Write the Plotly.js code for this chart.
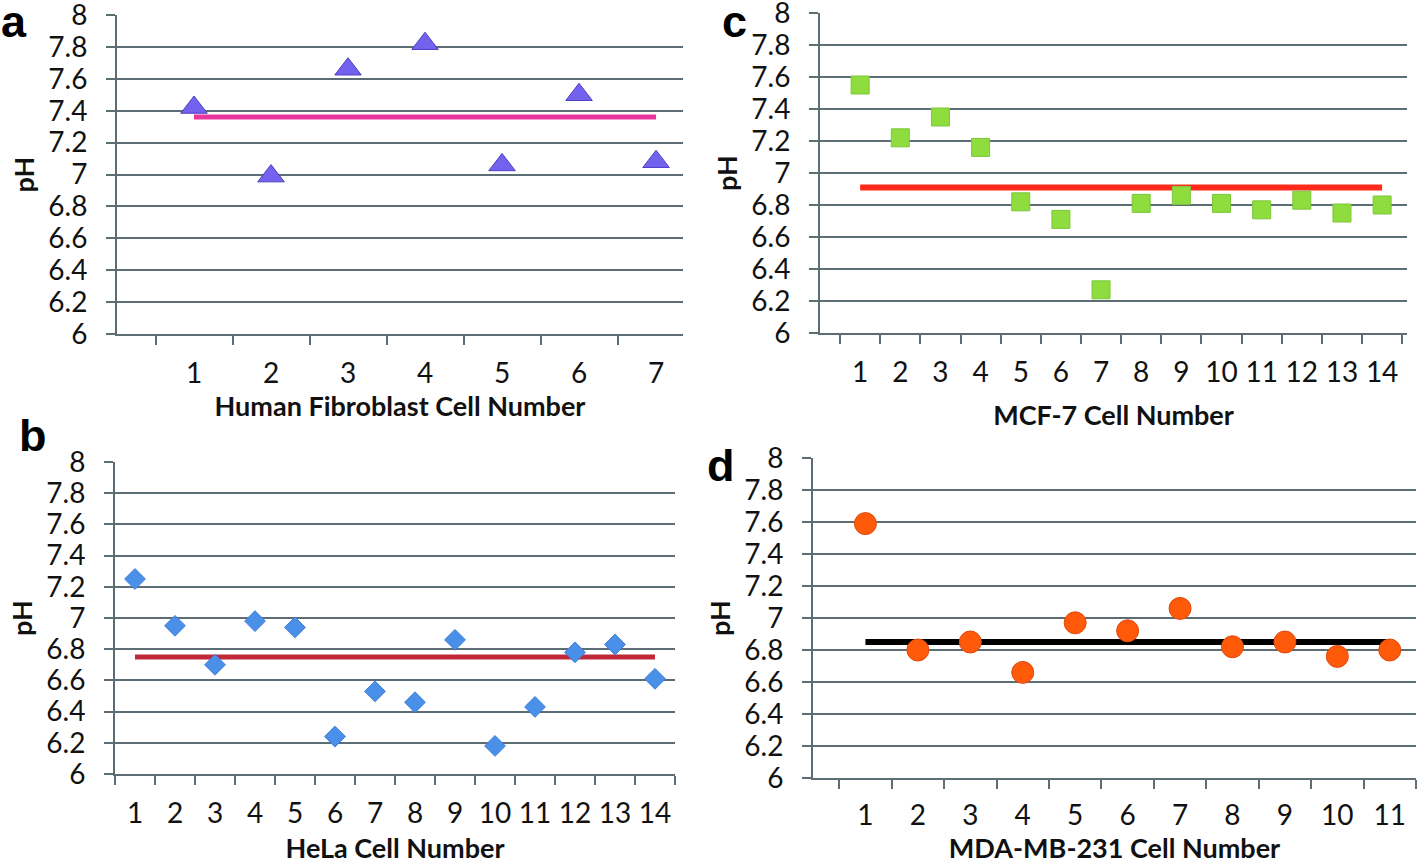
<!DOCTYPE html>
<html>
<head>
<meta charset="utf-8">
<script src="https://cdn.plot.ly/plotly-3.0.1.min.js"></script>
<style>html,body{margin:0;padding:0;background:#fff;}#chart{width:1418px;height:864px;}</style>
</head>
<body>
<div id="chart"></div>
<script>
// ---- data ----
const cellsA = [1, 2, 3, 4, 5, 6, 7];
const phA = [7.42, 6.99, 7.66, 7.82, 7.06, 7.50, 7.08];
const meanA = 7.36;

const cellsB = [1, 2, 3, 4, 5, 6, 7, 8, 9, 10, 11, 12, 13, 14];
const phB = [7.25, 6.95, 6.70, 6.98, 6.94, 6.24, 6.53, 6.46, 6.86, 6.18, 6.43, 6.78, 6.83, 6.61];
const meanB = 6.75;

const cellsC = [1, 2, 3, 4, 5, 6, 7, 8, 9, 10, 11, 12, 13, 14];
const phC = [7.55, 7.22, 7.35, 7.16, 6.82, 6.71, 6.27, 6.81, 6.86, 6.81, 6.77, 6.83, 6.75, 6.80];
const meanC = 6.91;

const cellsD = [1, 2, 3, 4, 5, 6, 7, 8, 9, 10, 11];
const phD = [7.59, 6.80, 6.85, 6.66, 6.97, 6.92, 7.06, 6.82, 6.85, 6.76, 6.80];
const meanD = 6.85;

const yTicks = [6, 6.2, 6.4, 6.6, 6.8, 7, 7.2, 7.4, 7.6, 7.8, 8];
const yTickText = ['6', '6.2', '6.4', '6.6', '6.8', '7', '7.2', '7.4', '7.6', '7.8', '8'];

const xTitles = ['Human Fibroblast Cell Number', 'HeLa Cell Number', 'MCF-7 Cell Number', 'MDA-MB-231 Cell Number'];
const panelLetters = ['a', 'b', 'c', 'd'];

// ---- styling ----
const W = 1418, H = 864;
const GRID = '#5d6d75';
const FONT = 'Lato, "Open Sans", sans-serif';

function dom(p0, p1, total, flip) {
  return flip ? [1 - p1 / total, 1 - p0 / total] : [p0 / total, p1 / total];
}

function xAxis(xpx, xrange, cats, anchor, titleText, labelStandoff, titleStandoff) {
  return {
    domain: dom(xpx[0], xpx[1], W, false),
    range: xrange,
    anchor: anchor,
    showgrid: false,
    zeroline: false,
    showline: true,
    linecolor: GRID,
    linewidth: 2,
    ticks: '',
    tickmode: 'array',
    tickvals: cats,
    ticktext: cats.map(String),
    ticklabelstandoff: labelStandoff,
    ticklabeloverflow: 'allow',
    tickfont: {family: FONT, size: 28, color: '#111'},
    minor: {ticks: 'outside', tickmode: 'linear', tick0: 0.5, dtick: 1, ticklen: 9, tickwidth: 2, tickcolor: GRID, showgrid: false},
    title: {text: titleText, standoff: titleStandoff, font: {family: FONT, size: 27, color: '#111', weight: 'bold'}},
    fixedrange: true
  };
}

function yAxis(ypx, anchor) {
  return {
    domain: dom(ypx[0], ypx[1], H, true),
    range: [6, 8],
    anchor: anchor,
    showgrid: true,
    gridcolor: GRID,
    gridwidth: 2,
    zeroline: false,
    showline: true,
    linecolor: GRID,
    linewidth: 2,
    ticks: 'outside',
    ticklen: 9,
    tickwidth: 2,
    tickcolor: GRID,
    tickmode: 'array',
    tickvals: yTicks,
    ticktext: yTickText,
    ticklabelstandoff: 13,
    ticklabeloverflow: 'allow',
    tickfont: {family: FONT, size: 28, color: '#111'},
    title: {text: 'pH', standoff: 6, font: {family: FONT, size: 27, color: '#111', weight: 'bold'}},
    fixedrange: true
  };
}

function meanTrace(cats, mean, color, width, xa, ya) {
  return {
    type: 'scatter', mode: 'lines',
    x: [cats[0], cats[cats.length - 1]], y: [mean, mean],
    xaxis: xa, yaxis: ya,
    line: {color: color, width: width},
    hoverinfo: 'skip', showlegend: false
  };
}

function pointTrace(cats, vals, symbol, size, fill, outline, xa, ya) {
  return {
    type: 'scatter', mode: 'markers',
    x: cats, y: vals, xaxis: xa, yaxis: ya,
    marker: {symbol: symbol, size: size, color: fill, line: {color: outline, width: 1}},
    showlegend: false
  };
}

const data = [
  meanTrace(cellsA, meanA, '#e8369f', 5, 'x', 'y'),
  pointTrace(cellsA, phA, 'triangle-up', 23, '#7262ee', '#4f3fc2', 'x', 'y'),
  meanTrace(cellsB, meanB, '#c0283a', 5, 'x2', 'y2'),
  pointTrace(cellsB, phB, 'diamond', 16, '#4a8fe8', '#3f7fd8', 'x2', 'y2'),
  meanTrace(cellsC, meanC, '#ff2a1a', 6, 'x3', 'y3'),
  pointTrace(cellsC, phC, 'square', 18, '#8fdc3e', '#7cc63a', 'x3', 'y3'),
  meanTrace(cellsD, meanD, '#000000', 6, 'x4', 'y4'),
  pointTrace(cellsD, phD, 'circle', 22, '#ff5a0a', '#e04a10', 'x4', 'y4')
];

const letterPos = [[14, 22], [33, 435], [734, 22], [721, 465]];

const layout = {
  width: W, height: H,
  margin: {l: 0, r: 0, t: 0, b: 0},
  paper_bgcolor: '#ffffff',
  plot_bgcolor: '#ffffff',
  showlegend: false,
  xaxis: xAxis([117, 683], [0, 7.35], cellsA, 'y', xTitles[0], 13, 2),
  yaxis: yAxis([15, 334], 'x'),
  xaxis2: xAxis([115, 675], [0.5, 14.5], cellsB, 'y2', xTitles[1], 13, 19),
  yaxis2: yAxis([462, 774], 'x2'),
  xaxis3: xAxis([820, 1407], [0, 14.62], cellsC, 'y3', xTitles[2], 13, 20),
  yaxis3: yAxis([13, 333], 'x3'),
  xaxis4: xAxis([813, 1416], [0, 11.5], cellsD, 'y4', xTitles[3], 11, 16),
  yaxis4: yAxis([458, 778], 'x4'),
  annotations: panelLetters.map((t, i) => ({
    text: t, xref: 'paper', yref: 'paper',
    x: letterPos[i][0] / W, y: 1 - letterPos[i][1] / H,
    xanchor: 'center', yanchor: 'middle', showarrow: false,
    font: {family: '"Liberation Sans", Arial, sans-serif', size: 45, color: '#000', weight: 'bold'}
  }))
};

Plotly.newPlot('chart', data, layout, {displayModeBar: false, staticPlot: true});
</script>
</body>
</html>
